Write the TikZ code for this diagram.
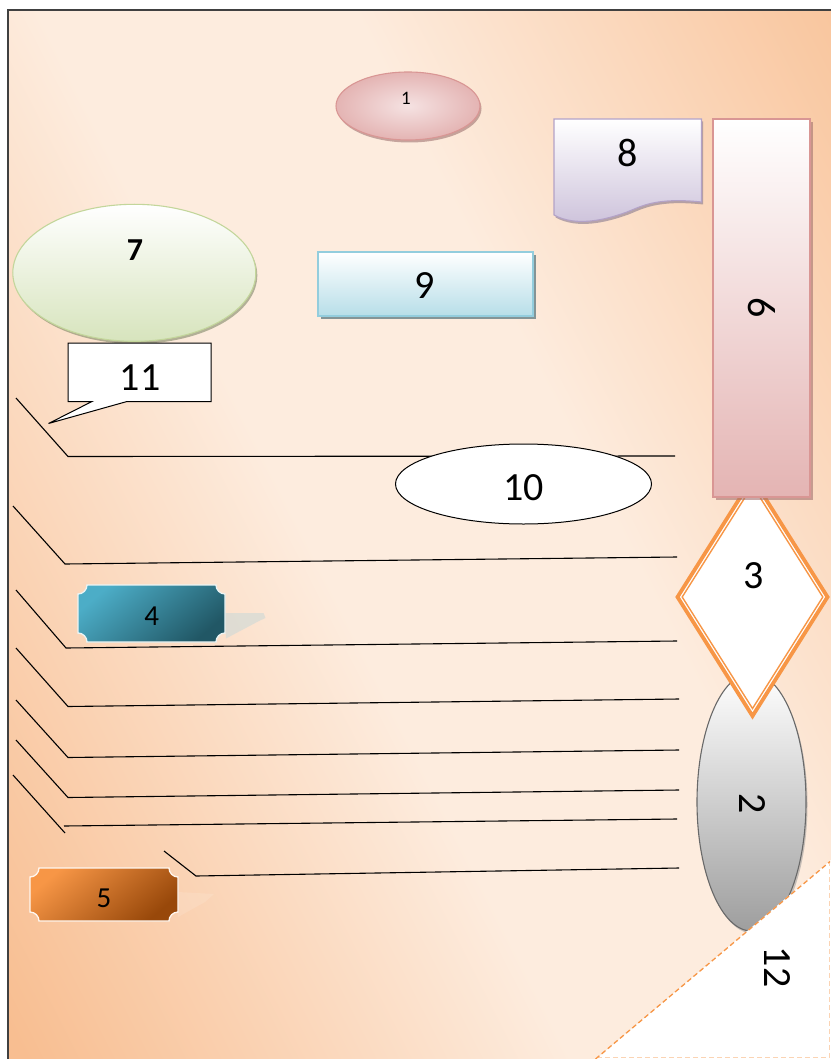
\documentclass[tikz,border=0pt]{standalone}
\usepackage{fontspec}
\setmainfont{Carlito}
\usetikzlibrary{shapes.geometric,shadows}

\definecolor{bgLight}{RGB}{253,236,222}
\definecolor{bgDeep}{RGB}{248,190,145}
\definecolor{pinkEdge}{RGB}{217,150,148}
\definecolor{pinkFill}{RGB}{228,180,179}
\definecolor{pinkPale}{RGB}{245,226,226}
\definecolor{lilacEdge}{RGB}{179,162,199}
\definecolor{lilacFill}{RGB}{204,193,218}
\definecolor{leafEdge}{RGB}{195,214,155}
\definecolor{leafFill}{RGB}{215,228,189}
\definecolor{iceEdge}{RGB}{147,205,221}
\definecolor{iceFill}{RGB}{183,222,232}
\definecolor{tealLight}{RGB}{76,173,199}
\definecolor{tealDark}{RGB}{33,87,101}
\definecolor{amberLight}{RGB}{247,150,70}
\definecolor{amberDark}{RGB}{152,72,10}
\definecolor{tangerine}{RGB}{247,150,70}
\definecolor{tangerinePale}{RGB}{251,212,180}
\definecolor{stoneEdge}{RGB}{105,105,105}
\definecolor{stoneFill}{RGB}{158,158,158}

% page background: light band with a soft plateau, deep peach at both sides
\pgfdeclarehorizontalshading{pageband}{100bp}{%
  color(0bp)=(bgDeep); color(25bp)=(bgDeep); color(44bp)=(bgLight);
  color(55bp)=(bgLight); color(75bp)=(bgDeep); color(100bp)=(bgDeep)}

% concave-cornered plaque: x1 y1 x2 y2 r
\newcommand\plaquepath[5]{%
  (#1+#5,#2) -- (#3-#5,#2)
  .. controls (#3-#5,#2+0.552*#5) and (#3-0.552*#5,#2+#5) .. (#3,#2+#5)
  -- (#3,#4-#5)
  .. controls (#3-0.552*#5,#4-#5) and (#3-#5,#4-0.552*#5) .. (#3-#5,#4)
  -- (#1+#5,#4)
  .. controls (#1+#5,#4-0.552*#5) and (#1+0.552*#5,#4-#5) .. (#1,#4-#5)
  -- (#1,#2+#5)
  .. controls (#1+0.552*#5,#2+#5) and (#1+#5,#2+0.552*#5) .. (#1+#5,#2) -- cycle}

\begin{document}
\begin{tikzpicture}[x=1pt,y=-1pt,
  rule/.style={draw=black, line width=1.1pt, line join=miter},
  bigtext/.style={font=\fontsize{40}{40}\selectfont, inner sep=0pt},
  midtext/.style={font=\fontsize{29}{29}\selectfont, inner sep=0pt},
  softshadow/.style={drop shadow={shadow xshift=1.5pt, shadow yshift=-2.5pt, fill=#1, opacity=.55}},
  plain/.style={inner sep=0pt, outer sep=0pt},
]
\useasboundingbox (0,0) rectangle (830,1059);
\fill[white] (0,0) rectangle (830,1059);

% page background with a diagonal light band
\begin{scope}
  \clip (8,10) rectangle (831,1060);
  \fill[bgDeep] (8,10) rectangle (831,1060);
  \begin{scope}[transform canvas={rotate around={27:(480,540)}}]
    \shade[shading=pageband] (-160,-500) rectangle (1120,1580);
  \end{scope}
\end{scope}
\draw[black!75, line width=1.3pt] (8,1060) -- (8,10) -- (831,10);

% elbow rules
\draw[rule] (16,398) -- (68,456.5) -- (675,456);
\draw[rule] (13,506) -- (65,564) -- (677,557);
\draw[rule] (16,590) -- (66,648) -- (677,641);
\draw[rule] (16,648) -- (68,706.5) -- (679,699);
\draw[rule] (16,700) -- (68,757.5) -- (679,750);
\draw[rule] (16,740) -- (68,797.5) -- (679,790);
\draw[rule] (13,775) -- (65,833);
\draw[rule] (64,826) -- (677,819);
\draw[rule] (164,851) -- (196,876) -- (679,868);

% 1
\node[plain, ellipse, minimum width=144, minimum height=68, draw=pinkEdge, line width=1.1pt,
      inner color=pinkPale, outer color=pinkFill, softshadow=pinkEdge!70!black] (s1) at (408,106) {};
\node[plain, font=\fontsize{19}{19}\selectfont] (t1) at (406,98) {1};

% 8
\shade[top color=white, bottom color=lilacFill, draw=lilacEdge, line width=1.1pt,
       softshadow=lilacEdge!70!black]
  (554,119) -- (701.5,119) -- (701.5,202)
  .. controls (655,197) and (640,207) .. (627,212)
  .. controls (605,220) and (576,227) .. (554,215) -- cycle;
\node[bigtext] (t8) at (628,153) {8};

% 7
\node[plain, ellipse, minimum width=243, minimum height=137, draw=leafEdge, line width=1.1pt,
      top color=white, bottom color=leafFill, softshadow=leafEdge!60!black] (s7) at (134.3,272.8) {};
\node[plain, font=\fontsize{32}{32}\selectfont\bfseries] (t7) at (135,250) {7};

% 9
\node[plain, rectangle, minimum width=215, minimum height=64, draw=iceEdge, line width=1.3pt,
      top color=white, bottom color=iceFill,
      drop shadow={shadow xshift=3pt, shadow yshift=-3pt, fill=black!45!iceEdge, opacity=.7}] (s9) at (425.5,284) {};
\node[bigtext] (t9) at (425,286) {9};

% 11
\filldraw[fill=white, draw=black, line width=1pt, line join=miter]
  (68,343) -- (211,343) -- (211,401.5) -- (127,401.5) -- (48.5,423.5) -- (92,401.5) -- (68,401.5) -- cycle;
\node[bigtext] (t11) at (140,378) {11};

% 10
\node[plain, ellipse, minimum width=256, minimum height=80, draw=black, line width=1pt,
      fill=white] (s10) at (523.5,484) {};
\node[bigtext] (t10) at (523.5,488) {10};

% 4
\fill[black!10!green!8!gray!30, opacity=.75] (225,613) -- (263.5,613) -- (265.5,618) -- (259,621) -- (226,638.5) -- cycle;
\shade[top color=tealLight, bottom color=tealDark, shading angle=40, draw=white!92!teal, line width=1.3pt]
  \plaquepath{78}{585}{225}{642}{9};
\node[midtext] (t4) at (151.7,616) {4};

% 5
\fill[white, opacity=.12] (178,892) -- (214,894) -- (205,902) -- (178,917) -- cycle;
\shade[top color=amberLight, bottom color=amberDark, shading angle=40, draw=white!94!orange, line width=1.3pt]
  \plaquepath{30}{868}{178}{921}{9};
\node[midtext] (t5) at (104,898.5) {5};

% 2
\node[plain, ellipse, minimum width=109, minimum height=258, draw=stoneEdge, line width=1.1pt,
      top color=white, bottom color=stoneFill, softshadow=black!40] (s2) at (751.5,802) {};
\node[bigtext, rotate=-90] (t2) at (752.5,804) {2};

% 3
\filldraw[fill=white, draw=tangerine, line width=3.8pt, line join=miter]
  (677.5,597) -- (752.5,478) -- (827.5,597) -- (752.5,716) -- cycle;
\draw[tangerine, line width=1.4pt, line join=miter]
  (682.2,597) -- (752.5,485.5) -- (822.8,597) -- (752.5,708.5) -- cycle;
\node[bigtext] (t3) at (754,576) {3};

% 6
\node[plain, rectangle, minimum width=97, minimum height=378, draw=pinkEdge, line width=1.2pt,
      top color=white, bottom color=pinkFill,
      drop shadow={shadow xshift=3pt, shadow yshift=-3pt, fill=pinkEdge!75!black, opacity=.6}] (s6) at (761.5,308) {};
\node[bigtext, rotate=-90] (t6) at (762,308) {6};

% 12
\fill[white] (595,1060) -- (831,860) -- (831,1060) -- cycle;
\draw[tangerinePale, line width=1pt, dash pattern=on 5pt off 3pt] (829,861) -- (829,1057.5) -- (597,1057.5);
\draw[tangerine, line width=1.3pt, dash pattern=on 5pt off 3pt] (595.5,1059) -- (830,861.5);
\node[bigtext, rotate=-90] (t12) at (777.5,967) {12};
\end{tikzpicture}
\end{document}
